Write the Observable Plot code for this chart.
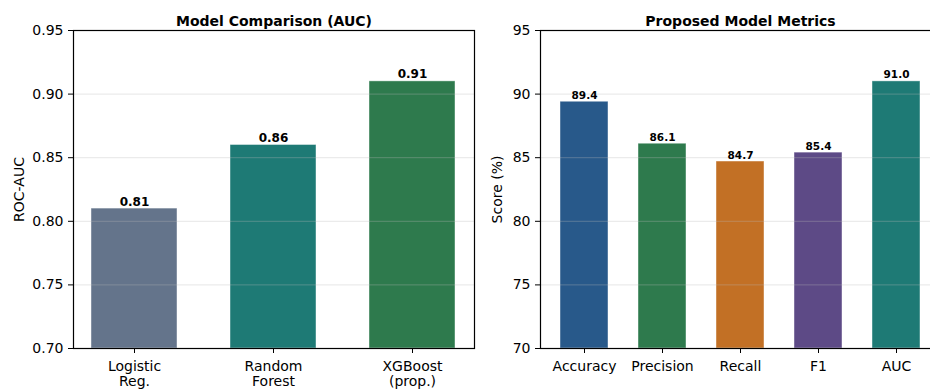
<!DOCTYPE html>
<html>
<head>
<meta charset="utf-8">
<script src="https://cdn.jsdelivr.net/npm/d3@7"></script>
<script src="https://cdn.jsdelivr.net/npm/@observablehq/plot@0.6"></script>
<style>
  html, body { margin: 0; padding: 0; background: #fff; }
  #wrap { position: relative; width: 930px; height: 389px; overflow: hidden; background: #fff; }
  #left, #right { position: absolute; top: 0; }
  #left { left: 0; width: 480px; }
  #right { left: 480px; width: 470px; }
  #wrap svg { max-width: none !important; }
</style>
</head>
<body>
<div id="wrap"><div id="left"></div><div id="right"></div></div>
<script>
// ---- data ----
const leftTitle = "Model Comparison (AUC)";
const rightTitle = "Proposed Model Metrics";
const models = ["Logistic\nReg.", "Random\nForest", "XGBoost\n(prop.)"];
const aucValues = [0.81, 0.86, 0.91];
const modelColors = ["#64748b", "#1e7a75", "#2e7a4d"];
const aucTicks = [0.70, 0.75, 0.80, 0.85, 0.90, 0.95];

const metrics = ["Accuracy", "Precision", "Recall", "F1", "AUC"];
const metricValues = [89.4, 86.1, 84.7, 85.4, 91.0];
const metricColors = ["#28598a", "#2e7a4d", "#c27025", "#5d4a86", "#1e7a75"];
const scoreTicks = [70, 75, 80, 85, 90, 95];

const leftData = models.map((m, i) => ({ name: m, value: aucValues[i] }));
const rightData = metrics.map((m, i) => ({ name: m, value: metricValues[i] }));

function panel({ data, names, colors, ticks, fmt, labelFmt, title, ylabel, width, marginLeft, marginRight, paddingOuter, labelSize, labelOffset }) {
  const lo = ticks[0], hi = ticks[ticks.length - 1];
  return Plot.plot({
    width, height: 389,
    marginLeft, marginRight, marginTop: 30, marginBottom: 41,
    style: { fontFamily: "DejaVu Sans, sans-serif", fontSize: "14px", color: "#000", background: "transparent", overflow: "visible" },
    x: { domain: names, paddingInner: 0.38, paddingOuter, label: null },
    y: { domain: [lo, hi], label: null },
    color: { domain: names, range: colors },
    marks: [
      Plot.barY(data, { x: "name", y1: lo, y2: "value", fill: "name", stroke: "#ffffff", strokeOpacity: 0.55, strokeWidth: 0.8 }),
      Plot.gridY(ticks, { stroke: "#b8b8b8", strokeOpacity: 0.35, strokeWidth: 1 }),
      Plot.text(data, { x: "name", y: "value", text: d => labelFmt(d.value), lineAnchor: "bottom", dy: -3, fontWeight: "bold", fontSize: labelSize, fill: "#000" }),
      Plot.axisY(ticks, { tickFormat: fmt, tickSize: 5, tickPadding: 5, label: ylabel, labelAnchor: "center", labelArrow: "none", labelOffset, fontSize: 14 }),
      Plot.axisX({ tickSize: 5, tickPadding: 7, label: null, fontSize: 14, lineHeight: 1.08 }),
      Plot.frame({ stroke: "#000", strokeWidth: 1.2 }),
      Plot.text([title], { frameAnchor: "top", dy: -14, fontWeight: "bold", fontSize: 14, fill: "#000" })
    ]
  });
}

document.getElementById("left").append(panel({
  data: leftData, names: models, colors: modelColors, ticks: aucTicks,
  fmt: d => d.toFixed(2), labelFmt: v => v.toFixed(2),
  title: leftTitle, ylabel: "ROC-AUC",
  width: 480, marginLeft: 73, marginRight: 6, paddingOuter: 0.13, labelSize: 12, labelOffset: 59
}));

document.getElementById("right").append(panel({
  data: rightData, names: metrics, colors: metricColors, ticks: scoreTicks,
  fmt: d => String(d), labelFmt: v => v.toFixed(1),
  title: rightTitle, ylabel: "Score (%)",
  width: 470, marginLeft: 60, marginRight: 10, paddingOuter: 0.23, labelSize: 10.5, labelOffset: 48
}));
</script>
</body>
</html>
